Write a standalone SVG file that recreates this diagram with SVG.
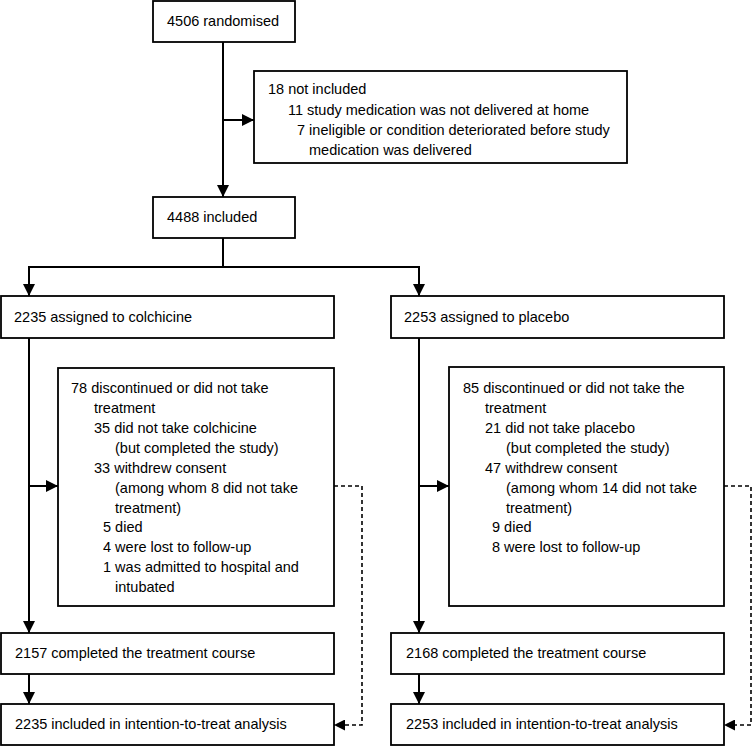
<svg xmlns="http://www.w3.org/2000/svg" width="754" height="746" viewBox="0 0 754 746">
<style>
.box{fill:#fff;stroke:#000;stroke-width:1.8}
.t{font-family:"Liberation Sans",Arial,sans-serif;font-size:14.5px;fill:#000}
.ln{fill:none;stroke:#000;stroke-width:2}
.dl{fill:none;stroke:#000;stroke-width:1.6;stroke-dasharray:4 3}
</style>
<defs>
<marker id="ah" markerUnits="userSpaceOnUse" markerWidth="12" markerHeight="12" refX="12" refY="6" orient="auto">
<path d="M0,0 L12,6 L0,12 z" fill="#000"/>
</marker>
<marker id="ahs" markerUnits="userSpaceOnUse" markerWidth="11" markerHeight="11" refX="11" refY="5.5" orient="auto">
<path d="M0,0 L11,5.5 L0,11 z" fill="#000"/>
</marker>
</defs>
<g id="connectors">
<path class="ln" d="M223,42 V197" marker-end="url(#ah)"/>
<path class="ln" d="M223,120 H254" marker-end="url(#ah)"/>
<path class="ln" d="M223,238 V267"/>
<path class="ln" d="M29,267 H419"/>
<path class="ln" d="M29,266 V296" marker-end="url(#ah)"/>
<path class="ln" d="M419,266 V296" marker-end="url(#ah)"/>
<path class="ln" d="M29,338 V633" marker-end="url(#ah)"/>
<path class="ln" d="M29,486 H58" marker-end="url(#ah)"/>
<path class="ln" d="M29,674 V704" marker-end="url(#ah)"/>
<path class="ln" d="M419,338 V633" marker-end="url(#ah)"/>
<path class="ln" d="M419,486 H449" marker-end="url(#ah)"/>
<path class="ln" d="M419,674 V704" marker-end="url(#ah)"/>
<path class="dl" d="M334,486 H362 V725 H334" marker-end="url(#ahs)"/>
<path class="dl" d="M724,486 H751 V725 H724" marker-end="url(#ahs)"/>
</g>
<g id="n-randomised">
<rect class="box" x="153" y="1" width="142" height="41"/>
<text class="t" x="167" y="26">4506 randomised</text>
</g>
<g id="n-notincluded">
<rect class="box" x="254" y="71" width="373" height="92"/>
<text class="t" x="268" y="94">18 not included</text>
<text class="t" x="288" y="115">11 study medication was not delivered at home</text>
<text class="t" x="297" y="135">7 ineligible or condition deteriorated before study</text>
<text class="t" x="309" y="155">medication was delivered</text>
</g>
<g id="n-included">
<rect class="box" x="153" y="197" width="142" height="41"/>
<text class="t" x="167" y="222">4488 included</text>
</g>
<g id="n-colchicine">
<rect class="box" x="1" y="296" width="333" height="42"/>
<text class="t" x="14" y="322">2235 assigned to colchicine</text>
</g>
<g id="n-placebo">
<rect class="box" x="391" y="296" width="333" height="42"/>
<text class="t" x="404" y="322">2253 assigned to placebo</text>
</g>
<g id="n-disc-colchicine">
<rect class="box" x="58" y="368" width="276" height="238"/>
<text class="t" x="71" y="393">78 discontinued or did not take</text>
<text class="t" x="94" y="413">treatment</text>
<text class="t" x="94" y="433">35 did not take colchicine</text>
<text class="t" x="115" y="453">(but completed the study)</text>
<text class="t" x="94" y="473">33 withdrew consent</text>
<text class="t" x="115" y="493">(among whom 8 did not take</text>
<text class="t" x="115" y="513">treatment)</text>
<text class="t" x="103" y="532">5 died</text>
<text class="t" x="103" y="552">4 were lost to follow-up</text>
<text class="t" x="103" y="572">1 was admitted to hospital and</text>
<text class="t" x="115" y="592">intubated</text>
</g>
<g id="n-disc-placebo">
<rect class="box" x="449" y="367" width="275" height="239"/>
<text class="t" x="463" y="393">85 discontinued or did not take the</text>
<text class="t" x="485" y="413">treatment</text>
<text class="t" x="485" y="433">21 did not take placebo</text>
<text class="t" x="506" y="453">(but completed the study)</text>
<text class="t" x="485" y="473">47 withdrew consent</text>
<text class="t" x="506" y="493">(among whom 14 did not take</text>
<text class="t" x="506" y="513">treatment)</text>
<text class="t" x="492" y="532">9 died</text>
<text class="t" x="492" y="552">8 were lost to follow-up</text>
</g>
<g id="n-completed-colchicine">
<rect class="box" x="1" y="633" width="333" height="41"/>
<text class="t" x="15" y="658">2157 completed the treatment course</text>
</g>
<g id="n-itt-colchicine">
<rect class="box" x="1" y="704" width="333" height="41"/>
<text class="t" x="15" y="729">2235 included in intention-to-treat analysis</text>
</g>
<g id="n-completed-placebo">
<rect class="box" x="391" y="633" width="333" height="41"/>
<text class="t" x="406" y="658">2168 completed the treatment course</text>
</g>
<g id="n-itt-placebo">
<rect class="box" x="391" y="704" width="333" height="41"/>
<text class="t" x="406" y="729">2253 included in intention-to-treat analysis</text>
</g>
</svg>
